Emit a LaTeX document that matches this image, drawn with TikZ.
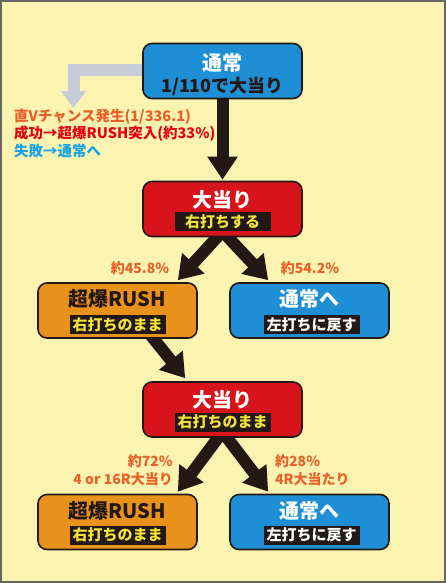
\documentclass[tikz,border=0pt]{standalone}
\usepackage{fontspec}
\usepackage{xcolor}
\usepackage{tikz}
\usetikzlibrary{arrows.meta,backgrounds}
\setmainfont{Noto Sans CJK JP}
\definecolor{bgyellow}{HTML}{FBF4B0}
\definecolor{boxblue}{HTML}{1E8FD5}
\definecolor{boxred}{HTML}{D7141C}
\definecolor{boxorange}{HTML}{E8921C}
\definecolor{inkblack}{HTML}{231815}
\definecolor{arrowgray}{HTML}{C6CDD6}
\definecolor{txtorange}{HTML}{E9602A}
\definecolor{txtred}{HTML}{E60012}
\definecolor{txtblue}{HTML}{1AA3E8}
\definecolor{txtyellow}{HTML}{F2E33A}
\tikzset{
  flowbox/.style={draw=inkblack, line width=1.6pt, rounded corners=9pt,
    minimum width=159pt, minimum height=55pt, inner sep=0pt},
  boxtitle/.style={inner sep=0pt, font=\fontsize{20}{20}\selectfont\bfseries},
  subtag/.style={fill=inkblack, minimum width=96pt, minimum height=19pt,
    inner sep=0pt, font=\fontsize{15}{15}\selectfont\bfseries},
  ratelabel/.style={inner sep=0pt, text=txtorange, align=left,
    font=\fontsize{14}{18}\selectfont\bfseries},
  bigarrow/.style={draw=inkblack, line width=12pt,
    -{Triangle[length=23pt,width=29pt]}}
}

\begin{document}
\begin{tikzpicture}[x=1pt,y=-1pt]
    % Top: normal play
    \node[flowbox, fill=boxblue] (top) at (222.5,71) {};
    \node[boxtitle, text=white] (toptitle) at (222.5,63) {通常};
    \node[boxtitle, text=inkblack, font=\fontsize{18}{18}\selectfont\bfseries] (topsub) at (222.5,86) {1/110で大当り};

    % Direct V chance notes
    \node[anchor=west, inner sep=0pt, font=\fontsize{14.5}{17}\selectfont\bfseries] (vnote) at (14,135)
      {\begin{tabular}{@{}l@{}}
        \textcolor{txtorange}{直Vチャンス発生(1/336.1)}\\
        \textcolor{txtred}{成功→超爆RUSH突入(約33\%)}\\
        \textcolor{txtblue}{失敗→通常へ}
      \end{tabular}};

    % First jackpot
    \node[flowbox, fill=boxred] (ba1) at (222.5,209) {};
    \node[boxtitle, text=white] (ba1title) at (222.5,200) {大当り};
    \node[subtag, text=txtyellow] (ba1sub) at (222.5,221.5) {右打ちする};

    % Branches after first jackpot
    \node[flowbox, fill=boxorange] (rush1) at (117.5,310.5) {};
    \node[boxtitle, text=inkblack] (rush1title) at (117.5,299) {超爆RUSH};
    \node[subtag, text=txtyellow] (rush1sub) at (117.5,324.5) {右打ちのまま};

    \node[flowbox, fill=boxblue] (nml1) at (309.5,310.5) {};
    \node[boxtitle, text=white] (nml1title) at (309.5,299) {通常へ};
    \node[subtag, text=white] (nml1sub) at (311.5,324.5) {左打ちに戻す};

    \node[ratelabel] (rate1l) at (140,268) {約45.8\%};
    \node[ratelabel] (rate1r) at (310,268) {約54.2\%};

    % Jackpot during RUSH
    \node[flowbox, fill=boxred] (ba2) at (222.5,409.5) {};
    \node[boxtitle, text=white] (ba2title) at (222.5,400) {大当り};
    \node[subtag, text=txtyellow] (ba2sub) at (222.5,422) {右打ちのまま};

    % Branches after RUSH jackpot
    \node[flowbox, fill=boxorange] (rush2) at (117.5,522) {};
    \node[boxtitle, text=inkblack] (rush2title) at (117.5,511) {超爆RUSH};
    \node[subtag, text=txtyellow] (rush2sub) at (117.5,535) {右打ちのまま};

    \node[flowbox, fill=boxblue] (nml2) at (309.5,522) {};
    \node[boxtitle, text=white] (nml2title) at (309.5,511) {通常へ};
    \node[subtag, text=white] (nml2sub) at (311.5,535) {左打ちに戻す};

    \node[ratelabel, anchor=east, align=right] (rate2l) at (173,470) {約72\%\\4 or 16R大当り};
    \node[ratelabel, anchor=west] (rate2r) at (275,470) {約28\%\\4R大当たり};

    % Background, frame and arrows go under the boxes
    \begin{scope}[on background layer]
        \fill[bgyellow] (0,0) rectangle (446,583);
        \draw[gray!80!black, line width=2pt] (1,1) rectangle (445,582);

        \coordinate (vbend) at (73.5,70);
        \coordinate (vtip) at (73.5,108);
        \draw[arrowgray, line width=12pt, line join=miter,
          -{Triangle[length=17pt,width=24pt]}]
          ([xshift=4pt]top.west |- vbend) -- (vbend) -- (vtip);

        \draw[bigarrow] ([yshift=4pt]top.south) -- ([yshift=1pt]ba1.north);
        \draw[bigarrow] ([yshift=6pt]ba1.south) -- ([xshift=-20pt,yshift=2pt]rush1.north east);
        \draw[bigarrow] ([yshift=6pt]ba1.south) -- ([xshift=39pt,yshift=2pt]nml1.north west);
        \draw[bigarrow] ([xshift=-49pt,yshift=6pt]rush1.south east) -- ([xshift=43pt,yshift=3pt]ba2.north west);
        \draw[bigarrow] ([yshift=6pt]ba2.south) -- ([xshift=-20pt,yshift=2pt]rush2.north east);
        \draw[bigarrow] ([yshift=6pt]ba2.south) -- ([xshift=39pt,yshift=2pt]nml2.north west);
    \end{scope}
\end{tikzpicture}
\end{document}
